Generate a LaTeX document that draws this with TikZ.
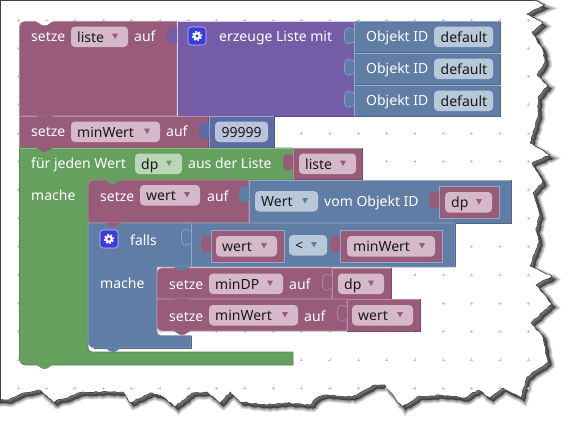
\documentclass[tikz,border=0pt]{standalone}
\usepackage{fontspec}
\setmainfont{Noto Sans}
\usetikzlibrary{decorations.pathmorphing}
\definecolor{pinkcol}{HTML}{995B7A}
\definecolor{pinkedge}{HTML}{B88DA3}
\definecolor{pinkdark}{HTML}{7F4A65}
\definecolor{pinkfield}{HTML}{D6B9C9}
\definecolor{purplecol}{HTML}{745CA6}
\definecolor{purpleedge}{HTML}{D8D2E8}
\definecolor{purpledark}{HTML}{5F4A8A}
\definecolor{bluecol}{HTML}{5F7DA5}
\definecolor{blueedge}{HTML}{93A9C5}
\definecolor{bluedark}{HTML}{4E688A}
\definecolor{bluefield}{HTML}{B9C8D9}
\definecolor{numcol}{HTML}{5B6BA5}
\definecolor{numdark}{HTML}{4A588A}
\definecolor{numfield}{HTML}{BBC3DB}
\definecolor{greencol}{HTML}{66A05F}
\definecolor{greenedge}{HTML}{8DBB87}
\definecolor{greendark}{HTML}{56884F}
\definecolor{greenfield}{HTML}{B9D6B5}
\definecolor{gearcol}{HTML}{3C3CDC}
% plain block: fill, then light top and left, dark bottom and right
\newcommand{\blockrect}[7]{\fill[#5] (#1,#2) rectangle (#3,#4);
\draw[#7,line width=.7pt] (#1,#4) -- (#3,#4) -- (#3,#2);
\draw[#6,line width=.7pt] (#1,#4) -- (#1,#2) -- (#3,#2);}
% tab of a value block, its right end on x=#1, block top on y=#2
\newcommand{\blocktab}[4]{\draw[fill=#3,draw=#4,line width=.6pt] (#1,#2+8) .. controls (#1-3,#2+9) and (#1-3,#2+5) .. (#1-7,#2+6.5) .. controls (#1-10.5,#2+8) and (#1-10.5,#2+20.5) .. (#1-7,#2+22) .. controls (#1-3,#2+23.5) and (#1-3,#2+19.5) .. (#1,#2+20.5);}
% bump under a statement block, block left on x=#1, edge on y=#2
\newcommand{\blockbump}[3]{\fill[#3] (#1+16,#2-.5) .. controls (#1+20,#2) and (#1+20,#2+4) .. (#1+25,#2+4) .. controls (#1+30,#2+4) and (#1+30,#2) .. (#1+34,#2-.5) -- cycle;}
% field with arrow
\newcommand{\dropfield}[7]{\fill[#5,rounded corners=4pt] (#2,#4) rectangle (#3,#4+20.5);
\fill[#6] (#3-16,#4+7) -- (#3-10,#4+7) -- (#3-13,#4+12.5) -- cycle;
\node[fieldtext] (#1) at (#2+6,#4+15.5) {#7};}
\newcommand{\valfield}[6]{\fill[#5,rounded corners=4pt] (#2,#4) rectangle (#3,#4+20.5);
\node[fieldtext] (#1) at (#2+6.5,#4+15.5) {#6};}
% gear
\newcommand{\gearicon}[2]{\draw[gearbox] (#1,#2) rectangle (#1+18,#2+18);
\draw[white,line width=2pt] (#1+9,#2+9) circle (2.7pt);
\draw[white,line width=1.5pt,dash pattern=on 1.75pt off 1.75pt] (#1+9,#2+9) circle (4.5pt);}
\newcommand{\tornpath}{(-4,-4) -- (533,-4) -- (533,0) -- (545,5) -- (527,14) -- (543,23) -- (532,32) -- (543,50) -- (545,62) -- (537,75) -- (548,85) -- (538,97) -- (538,117) -- (530,143) -- (550,155) -- (532,163) -- (543,182) -- (533,193) -- (540,215) -- (536,228) -- (539,242) -- (530,266) -- (552,276) -- (536,285) -- (552,304) -- (531,323) -- (542,335) -- (548,362) -- (527,377) -- (521,398) -- (503,388) -- (490,398) -- (478,390) -- (465,398) -- (440,395) -- (417,397) -- (402,407) -- (385,385) -- (375,385) -- (352,397) -- (328,395) -- (318,397) -- (310,405) -- (285,403) -- (267,405) -- (240,402) -- (230,392) -- (220,403) -- (207,392) -- (192,393) -- (175,407) -- (163,397) -- (150,393) -- (130,403) -- (123,392) -- (83,392) -- (53,402) -- (40,390) -- (23,393) -- (8,400) -- (-4,400) -- cycle}
\begin{document}
\begin{tikzpicture}[x=1pt,y=-1pt,every node/.style={font=\fontsize{14}{16}\selectfont}]
\tikzset{
  lbl/.style={anchor=base west,inner sep=0pt,text=white},
  fieldtext/.style={anchor=base west,inner sep=0pt,text=black!90},
  pinkblock/.style={fill=pinkcol,draw=pinkedge,line width=.7pt},
  blueblock/.style={fill=bluecol,draw=blueedge,line width=.7pt},
  greenblock/.style={fill=greencol,draw=greendark,line width=.7pt},
  gearbox/.style={fill=gearcol,draw=white!70!gearcol,rounded corners=3pt,line width=.6pt},
  torn/.style={decorate,decoration={random steps,segment length=3pt,amplitude=.7pt}}
}
\useasboundingbox (0,0) rectangle (573,431);
% paper with shadow
\foreach \wd/\op in {7/.1,5.5/.12,4/.14,2/.16,.5/.18}{
  \pgfmathsetseed{7}
  \draw[torn,fill=black,draw=black,line width=\wd pt,opacity=\op,shift={(3.5pt,-3.5pt)}] \tornpath;
}
\pgfmathsetseed{7}
\draw[torn,fill=white,draw=black!75,line width=.6pt] \tornpath;
\draw[black!75,line width=1.6pt] (0,400) -- (0,0) -- (534,0);
% grid
\foreach \i in {0,...,18}{
  \foreach \j in {0,...,13}{
    \draw[black!22,line width=.5pt] (18.3+28.33*\i-1.5,20+28.33*\j) -- (18.3+28.33*\i+1.5,20+28.33*\j) (18.3+28.33*\i,20+28.33*\j-1.5) -- (18.3+28.33*\i,20+28.33*\j+1.5);
  }
}
% setze liste
\draw[pinkblock] (19.5,116) -- (19.5,26.5) .. controls (19.5,23.5) and (21.5,21.5) .. (24.5,21.5) -- (177,21.5) -- (177,116) -- cycle;
\blockrect{177}{21.5}{354}{116}{purplecol}{purpleedge}{purpledark}
\blockrect{354}{21.5}{500}{52.5}{bluecol}{blueedge}{bluedark}
\blockrect{354}{53.5}{500}{84.5}{bluecol}{blueedge}{bluedark}
\blockrect{354}{85.5}{500}{116}{bluecol}{blueedge}{bluedark}
\blockbump{19.5}{21.5}{white}
% setze minWert
\blockrect{19.5}{116.5}{208.5}{148}{pinkcol}{pinkedge}{pinkdark}
\blockrect{209}{116.5}{274}{147.5}{numcol}{blueedge}{numdark}
\blockbump{19.5}{116}{pinkcol}
% green loop
\draw[greenblock] (293,148) -- (293,180) -- (92,180) .. controls (90,180) and (88,182) .. (88,184) -- (88,348) .. controls (88,350) and (90,352) .. (92,352) -- (293,352) -- (293,365) -- (26,365) .. controls (22,365) and (19.5,362) .. (19.5,358.5) -- (19.5,148) -- cycle;
\draw[greenedge,line width=.7pt] (19.5,148) -- (293,148);
\blockrect{293}{148}{362}{179.5}{pinkcol}{pinkedge}{pinkdark}
\blockbump{19.5}{148}{pinkcol}
% setze wert
\draw[pinkblock] (249,223) -- (88,223) -- (88,185) .. controls (88,182) and (90,180) .. (93,180) -- (249,180) -- cycle;
\blockrect{249}{180}{511}{223}{bluecol}{blueedge}{bluedark}
\blockrect{439}{186}{499}{218}{pinkcol}{blueedge}{blueedge}
\blockbump{88}{180}{greencol}
% falls
\draw[blueblock] (88,223) -- (455,223) -- (455,267) -- (157,267) -- (157,331) .. controls (157,334) and (159,335.5) .. (161,335.5) -- (191,335.5) -- (191,348) -- (94,348) .. controls (91,348) and (88,345) .. (88,342) -- cycle;
\draw[bluedark,line width=.7pt] (455,223) -- (455,267) (191,335.5) -- (191,348) -- (94,348);
\draw[blueedge,line width=.7pt] (191,223) -- (191,267);
\blockbump{88}{223}{pinkcol}
\blockrect{211}{230}{284}{262}{pinkcol}{blueedge}{blueedge}
\blockrect{340}{230}{442}{262}{pinkcol}{blueedge}{blueedge}
% setze minDP
\draw[pinkblock] (157,299) -- (157,273) .. controls (157,270) and (159,268) .. (162,268) -- (332,268) -- (332,299) -- cycle;
\blockrect{332}{268}{391}{299}{pinkcol}{pinkedge}{pinkdark}
\blockbump{157}{267}{bluecol}
% setze minWert inner
\draw[pinkblock] (157,299) -- (157,326) .. controls (157,329) and (159,331) .. (162,331) -- (347,331) -- (347,299) -- cycle;
\blockrect{347}{299}{420}{331}{pinkcol}{pinkedge}{pinkdark}
\blockbump{157}{299}{pinkcol}
\blockbump{157}{331}{pinkcol}
\blockbump{88}{348}{bluecol}
\blockbump{19.5}{365}{greencol}
% tabs
\blocktab{177}{21.5}{purplecol}{purplecol}
\blocktab{354}{21.5}{bluecol}{blueedge}
\blocktab{354}{53}{bluecol}{blueedge}
\blocktab{354}{85}{bluecol}{blueedge}
\blocktab{209}{116}{numcol}{numcol}
\blocktab{293}{148}{pinkcol}{pinkcol}
\blocktab{249}{180}{bluecol}{bluecol}
\blocktab{439}{186}{pinkcol}{pinkcol}
\blocktab{191}{223}{bluecol}{blueedge}
\blocktab{211}{230}{pinkcol}{pinkcol}
\blocktab{340}{230}{pinkcol}{pinkcol}
\blocktab{332}{268}{pinkcol}{pinkedge}
\blocktab{347}{299}{pinkcol}{pinkedge}
% gears
\gearicon{188}{27}
\gearicon{100}{230}
% first row
\node[lbl] (setzeA) at (31,41) {setze};
\dropfield{listeA}{71}{128}{26.5}{pinkfield}{pinkcol}{liste}
\node[lbl] (aufA) at (134,41) {auf};
\node[lbl] (erzeuge) at (219,41) {erzeuge Liste mit};
\node[lbl] (objA) at (366,41) {Objekt ID};
\valfield{defA}{434}{493}{26.5}{bluefield}{default}
\node[lbl] (objB) at (366,73) {Objekt ID};
\valfield{defB}{434}{493}{58.5}{bluefield}{default}
\node[lbl] (objC) at (366,105) {Objekt ID};
\valfield{defC}{434}{493}{90.5}{bluefield}{default}
% second row
\node[lbl] (setzeB) at (31,136) {setze};
\dropfield{minA}{71}{160}{121.5}{pinkfield}{pinkcol}{minWert}
\node[lbl] (aufB) at (166,136) {auf};
\valfield{numA}{215}{268}{121.5}{numfield}{99999}
% loop row
\node[lbl] (fuer) at (31,168) {für jeden Wert};
\dropfield{dpA}{135}{182}{153.5}{greenfield}{greencol}{dp}
\node[lbl] (aus) at (188,168) {aus der Liste};
\dropfield{listeB}{299}{356}{153.5}{pinkfield}{pinkcol}{liste}
\node[lbl] (macheA) at (31,200) {mache};
% wert row
\node[lbl] (setzeC) at (100,201) {setze};
\dropfield{wertA}{140}{200}{185}{pinkfield}{pinkcol}{wert}
\node[lbl] (aufC) at (207,201) {auf};
\dropfield{wertB}{255}{318}{191}{bluefield}{bluecol}{Wert}
\node[lbl] (vom) at (324,206.5) {vom Objekt ID};
\dropfield{dpB}{445}{492}{192}{pinkfield}{pinkcol}{dp}
% falls row
\node[lbl] (falls) at (130,245) {falls};
\dropfield{wertC}{216}{277}{236}{pinkfield}{pinkcol}{wert}
\dropfield{lessA}{289}{327}{235}{bluefield}{bluecol}{<}
\dropfield{minB}{347}{435}{236}{pinkfield}{pinkcol}{minWert}
\node[lbl] (macheB) at (100,288) {mache};
% inner rows
\node[lbl] (setzeD) at (169,289) {setze};
\dropfield{minDP}{209}{283}{273.5}{pinkfield}{pinkcol}{minDP}
\node[lbl] (aufD) at (289,289) {auf};
\dropfield{dpC}{338}{384}{273.5}{pinkfield}{pinkcol}{dp}
\node[lbl] (setzeE) at (169,321) {setze};
\dropfield{minC}{209}{298}{305}{pinkfield}{pinkcol}{minWert}
\node[lbl] (aufE) at (304,321) {auf};
\dropfield{wertD}{352}{413}{305}{pinkfield}{pinkcol}{wert}
\end{tikzpicture}
\end{document}
